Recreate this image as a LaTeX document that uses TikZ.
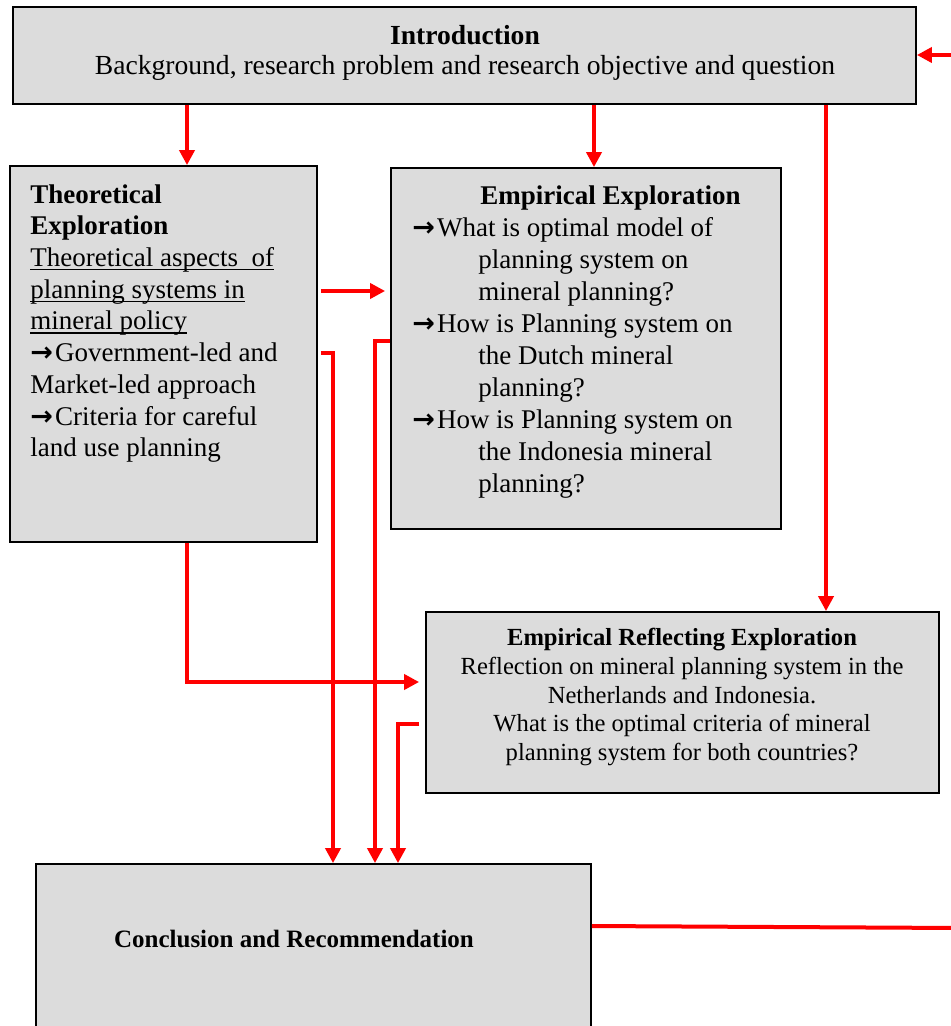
\documentclass[tikz,border=0pt]{standalone}
\usepackage{fontspec}
\setmainfont{Liberation Serif}
\newfontfamily\arrowfont{DejaVu Sans}
\usetikzlibrary{arrows.meta,positioning,fit,calc}
\definecolor{boxgray}{HTML}{DCDCDC}
\definecolor{flowred}{HTML}{FF0000}
\newcommand{\arr}{{\arrowfont\bfseries →\hspace{1pt}}}
\newcommand{\uln}[1]{\setbox0\hbox{#1}\rlap{\rule[-1.8pt]{\wd0}{0.6pt}}#1}
\tikzset{
  box/.style={draw=black,line width=0.9pt,fill=boxgray,inner sep=0pt,align=center},
  txt/.style={inner sep=0pt,align=left,anchor=north west},
  arrow/.style={-{Triangle[length=7.5pt,width=7.5pt]},line width=2pt,draw=flowred},
  line/.style={line width=2pt,draw=flowred}
}

\begin{document}
\begin{tikzpicture}[x=0.5pt,y=-0.5pt]
  \useasboundingbox (0,0) rectangle (951,1026);
  \clip (0,0) rectangle (951,1026);
  % boxes
  \node[box,fit={(13,7) (916,104)}] (intro) {};
  \node[box,fit={(10,166) (317,542)}] (theo) {};
  \node[box,fit={(391,168) (781,529)}] (emp) {};
  \node[box,fit={(426,612) (939,793)}] (refl) {};
  \node[box,fit={(36,864) (591,1060)}] (concl) {};
  % texts
  \node[align=center,inner sep=0pt,font=\fontsize{13.8}{15}\selectfont] (introtext) at (465,53) {\textbf{Introduction}\\Background, research problem and research objective and question};
  \node[txt,font=\fontsize{13.5}{15.85}\selectfont] (theotext) at (30,184) {\textbf{Theoretical}\\\textbf{Exploration}\\\uln{Theoretical aspects\ \ of}\\\uln{planning systems in}\\\uln{mineral policy}\\\arr Government-led and\\Market-led approach\\\arr Criteria for careful\\land use planning};
  \node[txt,font=\fontsize{13.5}{16}\selectfont] (emptext) at (412,185) {\hspace*{34pt}\textbf{Empirical Exploration}\\
    \arr What is optimal model of\\\hspace*{33pt}planning system on\\\hspace*{33pt}mineral planning?\\
    \arr How is Planning system on\\\hspace*{33pt}the Dutch mineral\\\hspace*{33pt}planning?\\
    \arr How is Planning system on\\\hspace*{33pt}the Indonesia mineral\\\hspace*{33pt}planning?};
  \node[align=center,inner sep=0pt,font=\fontsize{12.3}{14.3}\selectfont] (refltext) at (682,697) {\textbf{Empirical Reflecting Exploration}\\Reflection on mineral planning system in the\\Netherlands and Indonesia.\\What is the optimal criteria of mineral\\planning system for both countries?};
  \node[inner sep=0pt,font=\fontsize{12.5}{14}\selectfont\bfseries] (concltext) at (294,939) {Conclusion and Recommendation};
  % connectors
  \coordinate (loopin) at (951,55);
  \coordinate (loopout) at (960,928);
  \draw[arrow] (intro.south -| 187,0) -- (theo.north -| 187,0);
  \draw[arrow] (intro.south -| 594,0) -- (emp.north -| 594,0);
  \draw[arrow] (intro.south -| 826,0) -- (refl.north -| 826,0);
  \draw[arrow] (loopin) -- (intro.east |- loopin);
  \draw[arrow,shorten <=1.5pt,shorten >=2.5pt] (theo.east |- 0,291) -- (emp.west |- 0,291);
  \draw[arrow,shorten <=1.5pt] (theo.east |- 0,353) -| (333,0 |- concl.north);
  \draw[arrow] (emp.west |- 0,341) -| (375,0 |- concl.north);
  \draw[arrow,shorten >=3pt] (theo.south -| 187,0) |- (refl.west |- 0,682);
  \draw[arrow,shorten <=3pt] (refl.west |- 0,724) -| (398,0 |- concl.north);
  \draw[line] (concl.east |- 0,926) -- (loopout);
\end{tikzpicture}
\end{document}
